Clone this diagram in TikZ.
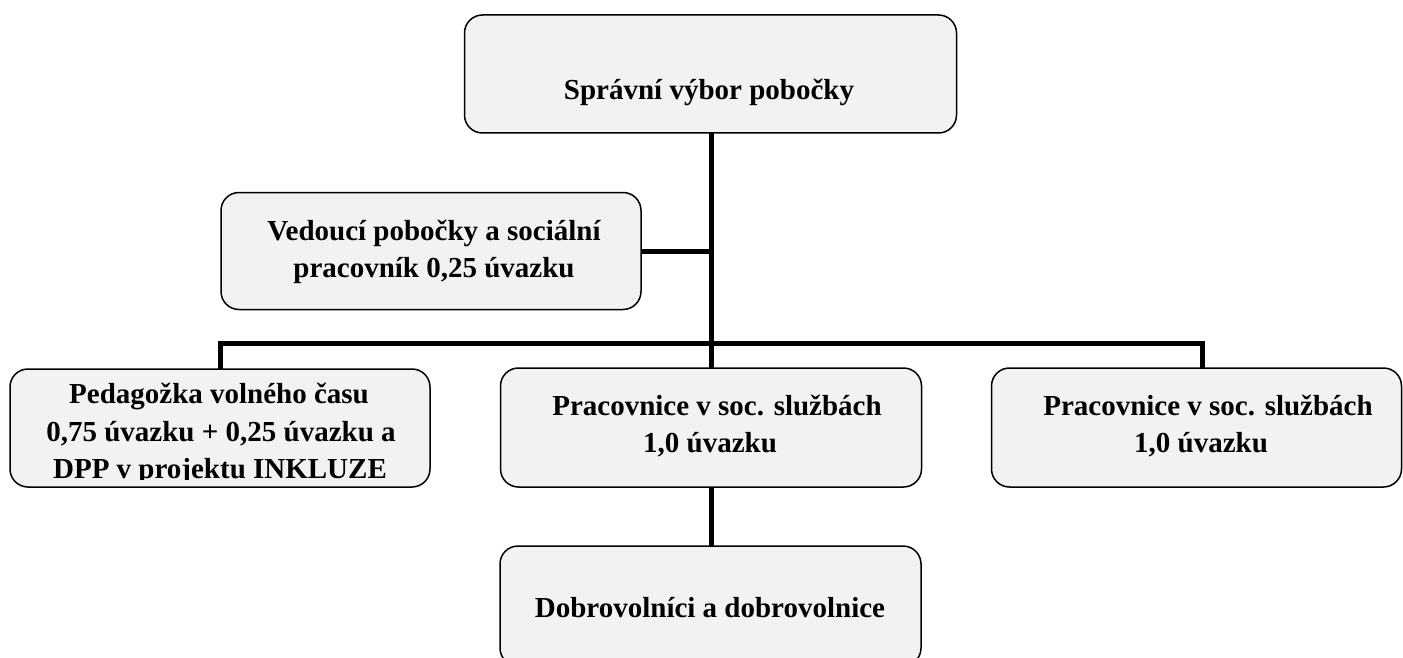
\documentclass[tikz,border=0pt]{standalone}
\usepackage{fontspec}
\setmainfont{Liberation Serif}
\definecolor{boxfill}{HTML}{F2F2F2}
\begin{document}
\begin{tikzpicture}[x=1pt,y=-1pt,
  orgbox/.style={draw=black, line width=1.5pt, fill=boxfill, rounded corners=18pt,
    inner sep=0pt, outer sep=0pt},
  lbl/.style={anchor=base, inner sep=0pt, font=\fontsize{29}{37.5}\selectfont\bfseries},
  conn/.style={line width=5pt, draw=black}]
\useasboundingbox (0,0) rectangle (1403,658);
% boxes
\node[orgbox, minimum width=492pt, minimum height=118pt] (top) at (710.5,74) {};
\node[orgbox, minimum width=420pt, minimum height=117pt] (ved) at (431,251) {};
\node[orgbox, minimum width=420pt, minimum height=118pt] (ped) at (220,428) {};
\node[orgbox, minimum width=421pt, minimum height=119pt] (mid) at (711,427.5) {};
\node[orgbox, minimum width=410pt, minimum height=119pt] (rgt) at (1196.5,427.5) {};
\node[orgbox, minimum width=421pt, minimum height=120pt] (dob) at (710.5,606) {};
% connector points
\coordinate (tv) at (711,251);
\coordinate (barL) at (220,343);
\coordinate (barM) at (711,343);
\coordinate (barR) at (1202,343);
% connectors
\draw[conn] (top.south -| barM) -- (mid.north -| barM);
\draw[conn] (ved.east) -- (tv);
\draw[conn] (barL |- ped.north) -- (barL) -- (barR) -- (barR |- rgt.north);
\draw[conn] (mid.south -| barM) -- (dob.north -| barM);
% texts
\node[lbl] (t1) at (709,100) {Správní výbor pobočky};
\node[lbl] (v1) at (434,240) {Vedoucí pobočky a sociální};
\node[lbl] (v2) at (434,277) {pracovník 0,25 úvazku};
\begin{scope}
\clip (0,360) rectangle (440,479);
\node[lbl] (p1) at (219,403) {Pedagožka volného času};
\node[lbl] (p2) at (221,441) {0,75 úvazku + 0,25 úvazku a};
\node[lbl] (p3) at (220,478.5) {DPP v projektu INKLUZE};
\end{scope}
\node[lbl] (m1) at (717,415) {Pracovnice v soc. službách};
\node[lbl] (m2) at (710,452) {1,0 úvazku};
\node[lbl] (r1) at (1208,415) {Pracovnice v soc. službách};
\node[lbl] (r2) at (1201,452) {1,0 úvazku};
\node[lbl] (d1) at (710,617) {Dobrovolníci a dobrovolnice};
\end{tikzpicture}
\end{document}
